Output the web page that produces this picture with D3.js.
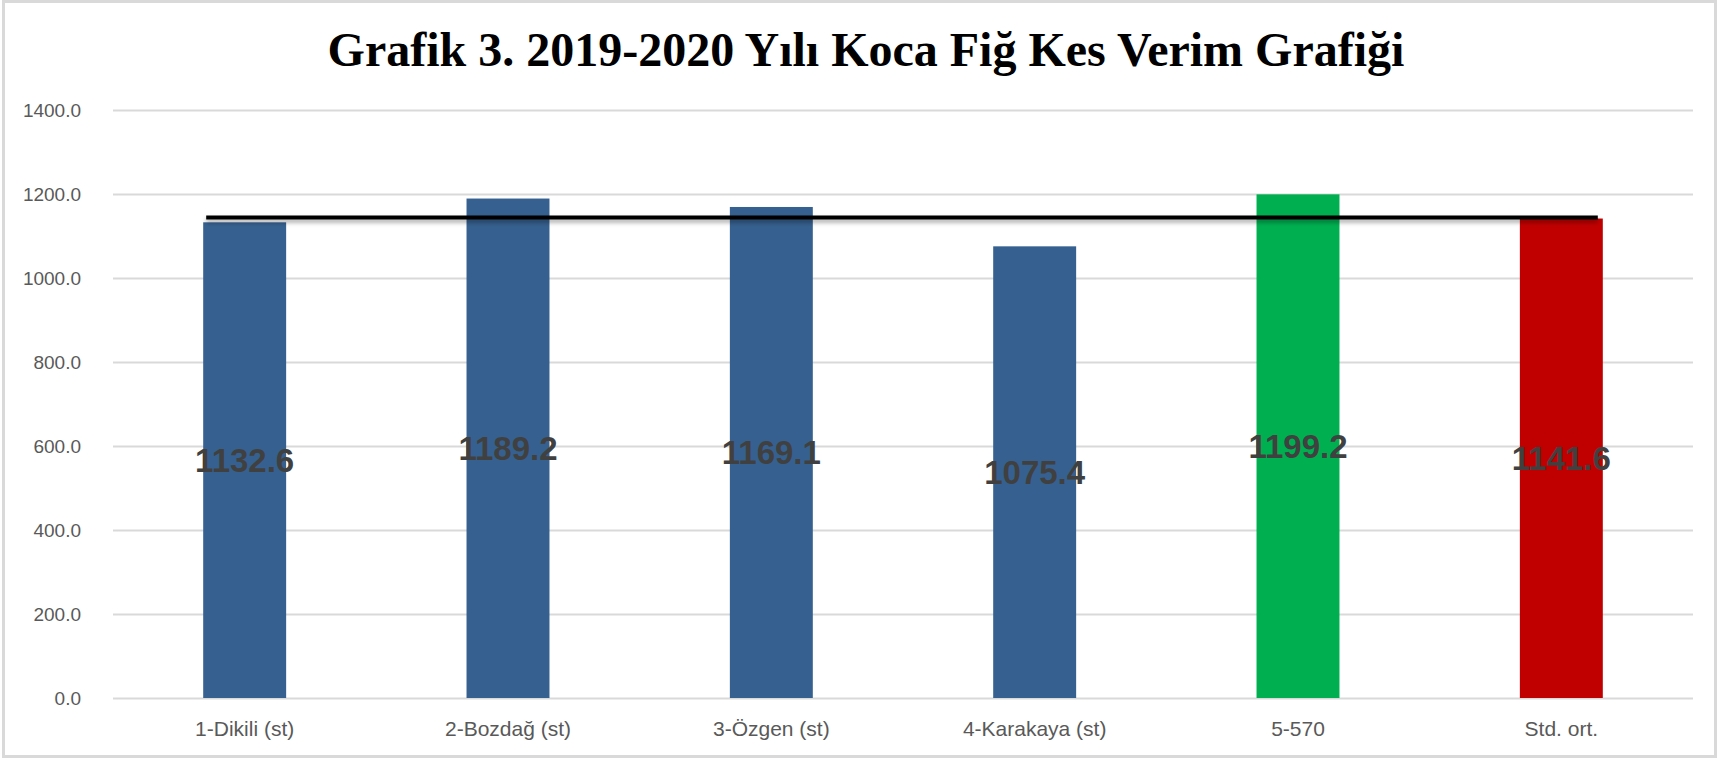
<!DOCTYPE html>
<html>
<head>
<meta charset="utf-8">
<script src="https://cdn.jsdelivr.net/npm/d3@7"></script>
<style>
  body { margin: 0; background: #fff; }
  svg { display: block; }
</style>
</head>
<body>
<div id="chart"></div>
<script>
//          Chart data
var categories = ["1-Dikili (st)", "2-Bozdağ (st)", "3-Özgen (st)", "4-Karakaya (st)", "5-570", "Std. ort."];
var values = [1132.6, 1189.2, 1169.1, 1075.4, 1199.2, 1141.6];
var barColors = ["#36608f", "#36608f", "#36608f", "#36608f", "#00b050", "#c00000"];
var yTicks = [0, 200, 400, 600, 800, 1000, 1200, 1400];
var refValue = 1141.6;   // std. ort. line
var title = "Grafik 3. 2019-2020 Yılı Koca Fiğ Kes Verim Grafiği";

//          Chart settings
var W = 1719, H = 759;
var plotLeft = 113, plotRight = 1693, plotTop = 110, plotBottom = 698;

var svg = d3.select("#chart").append("svg")
    .attr("width", W)
    .attr("height", H);

// shadow for the line (user space, a flat line has no bbox height)
var defs = svg.append("defs");
var f = defs.append("filter").attr("id", "shadow")
    .attr("filterUnits", "userSpaceOnUse")
    .attr("x", 0).attr("y", 0).attr("width", W).attr("height", H);
f.append("feDropShadow")
    .attr("dx", 0).attr("dy", 3).attr("stdDeviation", 2)
    .attr("flood-color", "#000").attr("flood-opacity", 0.35);

//          Outer border
svg.append("rect")
    .attr("x", 3.5).attr("y", 1.5)
    .attr("width", W - 7).attr("height", H - 4)
    .attr("fill", "none")
    .attr("stroke", "#d9d9d9")
    .attr("stroke-width", 3);

var x = d3.scaleBand().domain(categories).range([plotLeft, plotRight]).paddingInner(0.685).paddingOuter(0.3425);
var y = d3.scaleLinear().domain([0, 1400]).range([plotBottom, plotTop]);

//          Y axis + grid
var yAxis = svg.append("g")
    .attr("transform", "translate(" + plotLeft + ",0)")
    .call(d3.axisLeft(y).tickValues(yTicks).tickFormat(d3.format(".1f")).tickSize(-(plotRight - plotLeft)).tickPadding(32));
yAxis.select(".domain").remove();
yAxis.selectAll(".tick line").attr("stroke", "#d9d9d9").attr("stroke-width", 2);
yAxis.selectAll(".tick text")
    .attr("fill", "#595959")
    .style("font-family", "'Liberation Sans', Arial, sans-serif")
    .style("font-size", "19px");

//          Bars
svg.selectAll("rect.bar").data(values).enter().append("rect")
    .attr("class", "bar")
    .attr("x", function(d, i) { return x(categories[i]); })
    .attr("y", function(d) { return y(d); })
    .attr("width", x.bandwidth())
    .attr("height", function(d) { return y(0) - y(d); })
    .attr("fill", function(d, i) { return barColors[i]; });

//          Std. ort. line
svg.append("line")
    .attr("x1", x(categories[0]) + 3)
    .attr("x2", x(categories[categories.length - 1]) + x.bandwidth() - 5)
    .attr("y1", y(refValue) - 1)
    .attr("y2", y(refValue) - 1)
    .attr("stroke", "#000")
    .attr("stroke-width", 4)
    .attr("filter", "url(#shadow)");

//          Value labels (centered in bar)
svg.selectAll("text.val").data(values).enter().append("text")
    .attr("class", "val")
    .text(function(d) { return d3.format(".1f")(d); })
    .attr("x", function(d, i) { return x(categories[i]) + x.bandwidth() / 2; })
    .attr("y", function(d) { return y(d / 2); })
    .attr("dy", "0.35em")
    .attr("text-anchor", "middle")
    .attr("fill", "#404040")
    .style("font-family", "'Liberation Sans', Arial, sans-serif")
    .style("font-weight", "bold")
    .style("font-size", "33px");

//          Category labels
svg.selectAll("text.cat").data(categories).enter().append("text")
    .attr("class", "cat")
    .text(function(d) { return d; })
    .attr("x", function(d) { return x(d) + x.bandwidth() / 2; })
    .attr("y", 736)
    .attr("text-anchor", "middle")
    .attr("fill", "#595959")
    .style("font-family", "'Liberation Sans', Arial, sans-serif")
    .style("font-size", "21px");

//          Title
svg.append("text")
    .text(title)
    .attr("x", 866)
    .attr("y", 66)
    .attr("text-anchor", "middle")
    .attr("fill", "#000")
    .style("font-family", "'Liberation Serif', 'Times New Roman', serif")
    .style("font-weight", "bold")
    .style("font-size", "48px");
</script>
</body>
</html>
